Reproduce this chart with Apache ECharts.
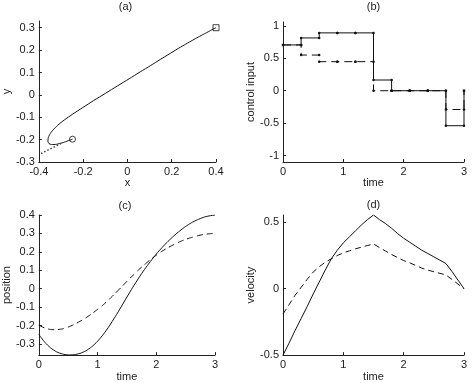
<!DOCTYPE html>
<html>
<head>
<meta charset="utf-8">
<script src="https://cdn.jsdelivr.net/npm/echarts@6/dist/echarts.min.js"></script>
<style>
  html, body { margin: 0; padding: 0; background: #fff; }
  #main { width: 473px; height: 383px; }
</style>
</head>
<body>
<div id="main"></div>
<script>
// time samples for position / velocity
var t = [0, 0.1, 0.2, 0.3, 0.4, 0.5, 0.6, 0.7, 0.8, 0.9, 1.0, 1.1, 1.2, 1.3, 1.4, 1.5,
         1.6, 1.7, 1.8, 1.9, 2.0, 2.1, 2.2, 2.3, 2.4, 2.5, 2.6, 2.7, 2.8, 2.9, 3.0];
// position (solid = x, dashed = y)
var pos1 = [-0.248, -0.29, -0.321, -0.342, -0.354, -0.359, -0.358, -0.351, -0.337, -0.315, -0.285,
            -0.247, -0.202, -0.152, -0.099, -0.045, 0.008, 0.058, 0.105, 0.148, 0.188,
            0.224, 0.257, 0.287, 0.314, 0.338, 0.358, 0.374, 0.387, 0.395, 0.4];
var pos2 = [-0.198, -0.213, -0.221, -0.222, -0.218, -0.208, -0.194, -0.177, -0.158, -0.136, -0.112,
            -0.086, -0.057, -0.025, 0.007, 0.04, 0.072, 0.103, 0.131, 0.158, 0.182,
            0.204, 0.223, 0.24, 0.255, 0.268, 0.278, 0.287, 0.294, 0.298, 0.3];
// velocity
var vel1 = [-0.5, -0.41, -0.315, -0.225, -0.135, -0.04, 0.05, 0.14, 0.225, 0.29, 0.345,
            0.39, 0.435, 0.48, 0.52, 0.555, 0.52, 0.49, 0.455, 0.415, 0.38,
            0.35, 0.32, 0.29, 0.265, 0.24, 0.215, 0.19, 0.13, 0.065, 0];
var vel2 = [-0.19, -0.12, -0.05, 0.01, 0.07, 0.125, 0.165, 0.2, 0.225, 0.25, 0.27,
            0.285, 0.3, 0.313, 0.325, 0.337, 0.31, 0.283, 0.257, 0.235, 0.212,
            0.195, 0.175, 0.155, 0.14, 0.128, 0.116, 0.104, 0.07, 0.035, 0];
// control input, one value per step (last one = value at t=3)
var stepT = [0, 0.3, 0.6, 0.9, 1.2, 1.5, 1.8, 2.1, 2.4, 2.7, 3.0];
var u1 = [0.706, 0.814, 0.892, 0.892, 0.892, 0.165, 0, 0, 0, -0.54, 0];
var u2 = [0.706, 0.55, 0.448, 0.448, 0.448, 0, 0, 0, 0, -0.29, 0];
// dotted guide in (a)
var guideX = [-0.39, -0.297];
var guideY = [-0.262, -0.216];

// tick labels
var ticksAx = [-0.4, -0.2, 0, 0.2, 0.4];
var ticksAy = [-0.3, -0.2, -0.1, 0, 0.1, 0.2, 0.3];
var ticksTime = [0, 1, 2, 3];
var ticksBy = [-1, -0.5, 0, 0.5, 1];
var ticksCy = [-0.3, -0.2, -0.1, 0, 0.1, 0.2, 0.3, 0.4];
var ticksDy = [-0.5, 0, 0.5];

var FONT = 'Liberation Sans';
var INK = '#222';

function zip(a, b) {
  var out = [];
  for (var i = 0; i < a.length; i++) out.push([a[i], b[i]]);
  return out;
}
function stairs(ts, u) {
  var out = [];
  for (var k = 0; k < ts.length - 1; k++) {
    out.push([ts[k], u[k]]);
    out.push([ts[k + 1], u[k]]);
  }
  out.push([ts[ts.length - 1], u[u.length - 1]]);
  return out;
}

function xAx(gi, min, max, ticks, name) {
  return {
    type: 'value', gridIndex: gi, min: min, max: max,
    name: name, nameLocation: 'middle', nameGap: 14,
    nameTextStyle: { fontFamily: FONT, fontSize: 11, color: INK },
    axisLine: { show: true, onZero: false, lineStyle: { color: INK, width: 1 } },
    axisTick: { show: true, inside: true, length: 3, customValues: ticks, lineStyle: { color: INK } },
    axisLabel: { customValues: ticks, margin: 4, fontFamily: FONT, fontSize: 11, color: INK },
    splitLine: { show: false }
  };
}
function yAx(gi, min, max, ticks, name, gap) {
  return {
    type: 'value', gridIndex: gi, min: min, max: max,
    name: name, nameLocation: 'middle', nameGap: gap,
    nameTextStyle: { fontFamily: FONT, fontSize: 11, color: INK },
    axisLine: { show: true, onZero: false, lineStyle: { color: INK, width: 1 } },
    axisTick: { show: true, inside: true, length: 3, customValues: ticks, lineStyle: { color: INK } },
    axisLabel: { customValues: ticks, margin: 4, fontFamily: FONT, fontSize: 11, color: INK },
    splitLine: { show: false }
  };
}
function ttl(text, x, y) {
  return { text: text, left: x, top: y, textAlign: 'center', padding: 0,
    textStyle: { fontFamily: FONT, fontSize: 11, fontWeight: 'normal', color: INK } };
}

var myChart = echarts.init(document.getElementById('main'));
var option = {
  animation: false,
  backgroundColor: '#fff',
  title: [ttl('(a)', 125.5, 1), ttl('(b)', 373.5, 1), ttl('(c)', 125, 200), ttl('(d)', 373.5, 199)],
  grid: [
    { left: 35, top: 21, width: 181, height: 141 },
    { left: 283, top: 22, width: 181, height: 140 },
    { left: 35, top: 215, width: 180, height: 142 },
    { left: 283, top: 215, width: 181, height: 142 }
  ],
  xAxis: [
    xAx(0, -0.4, 0.4, ticksAx, 'x'),
    xAx(1, 0, 3, ticksTime, 'time'),
    xAx(2, 0, 3, ticksTime, 'time'),
    xAx(3, 0, 3, ticksTime, 'time')
  ],
  yAxis: [
    yAx(0, -0.3, 0.33, ticksAy, 'y', 21),
    yAx(1, -1.1, 1.06, ticksBy, 'control input', 27),
    yAx(2, -0.36, 0.4, ticksCy, 'position', 22),
    yAx(3, -0.5, 0.555, ticksDy, 'velocity', 27)
  ],
  series: [
    // (a) trajectory
    { type: 'line', xAxisIndex: 0, yAxisIndex: 0, data: zip(pos1, pos2), showSymbol: false, smooth: 0.2,
      lineStyle: { color: '#111', width: 1 } },
    { type: 'line', xAxisIndex: 0, yAxisIndex: 0, data: zip(guideX, guideY), showSymbol: false,
      lineStyle: { color: '#444', width: 1.5, type: [1.5, 2] } },
    { type: 'scatter', xAxisIndex: 0, yAxisIndex: 0, symbol: 'circle', symbolSize: 6,
      data: [[pos1[0], pos2[0]]],
      itemStyle: { color: 'none', borderColor: '#111', borderWidth: 1 } },
    { type: 'scatter', xAxisIndex: 0, yAxisIndex: 0, symbol: 'rect', symbolSize: 6,
      data: [[pos1[pos1.length - 1], pos2[pos2.length - 1]]],
      itemStyle: { color: 'none', borderColor: '#111', borderWidth: 1 } },
    // (b) control input
    { type: 'line', xAxisIndex: 1, yAxisIndex: 1, data: stairs(stepT, u2), symbol: 'circle', symbolSize: 2.5,
      itemStyle: { color: '#111' }, lineStyle: { color: '#111', width: 1, type: [8, 5] } },
    { type: 'line', xAxisIndex: 1, yAxisIndex: 1, data: stairs(stepT, u1), symbol: 'circle', symbolSize: 2.5,
      itemStyle: { color: '#111' }, lineStyle: { color: '#111', width: 1 } },
    // (c) position
    { type: 'line', xAxisIndex: 2, yAxisIndex: 2, data: zip(t, pos1), showSymbol: false, smooth: 0.2,
      lineStyle: { color: '#111', width: 1 } },
    { type: 'line', xAxisIndex: 2, yAxisIndex: 2, data: zip(t, pos2), showSymbol: false, smooth: 0.2,
      lineStyle: { color: '#111', width: 1, type: [6, 4] } },
    // (d) velocity
    { type: 'line', xAxisIndex: 3, yAxisIndex: 3, data: zip(t, vel1), showSymbol: false,
      lineStyle: { color: '#111', width: 1 } },
    { type: 'line', xAxisIndex: 3, yAxisIndex: 3, data: zip(t, vel2), showSymbol: false,
      lineStyle: { color: '#111', width: 1, type: [6, 4] } }
  ]
};
myChart.setOption(option);
</script>
</body>
</html>
